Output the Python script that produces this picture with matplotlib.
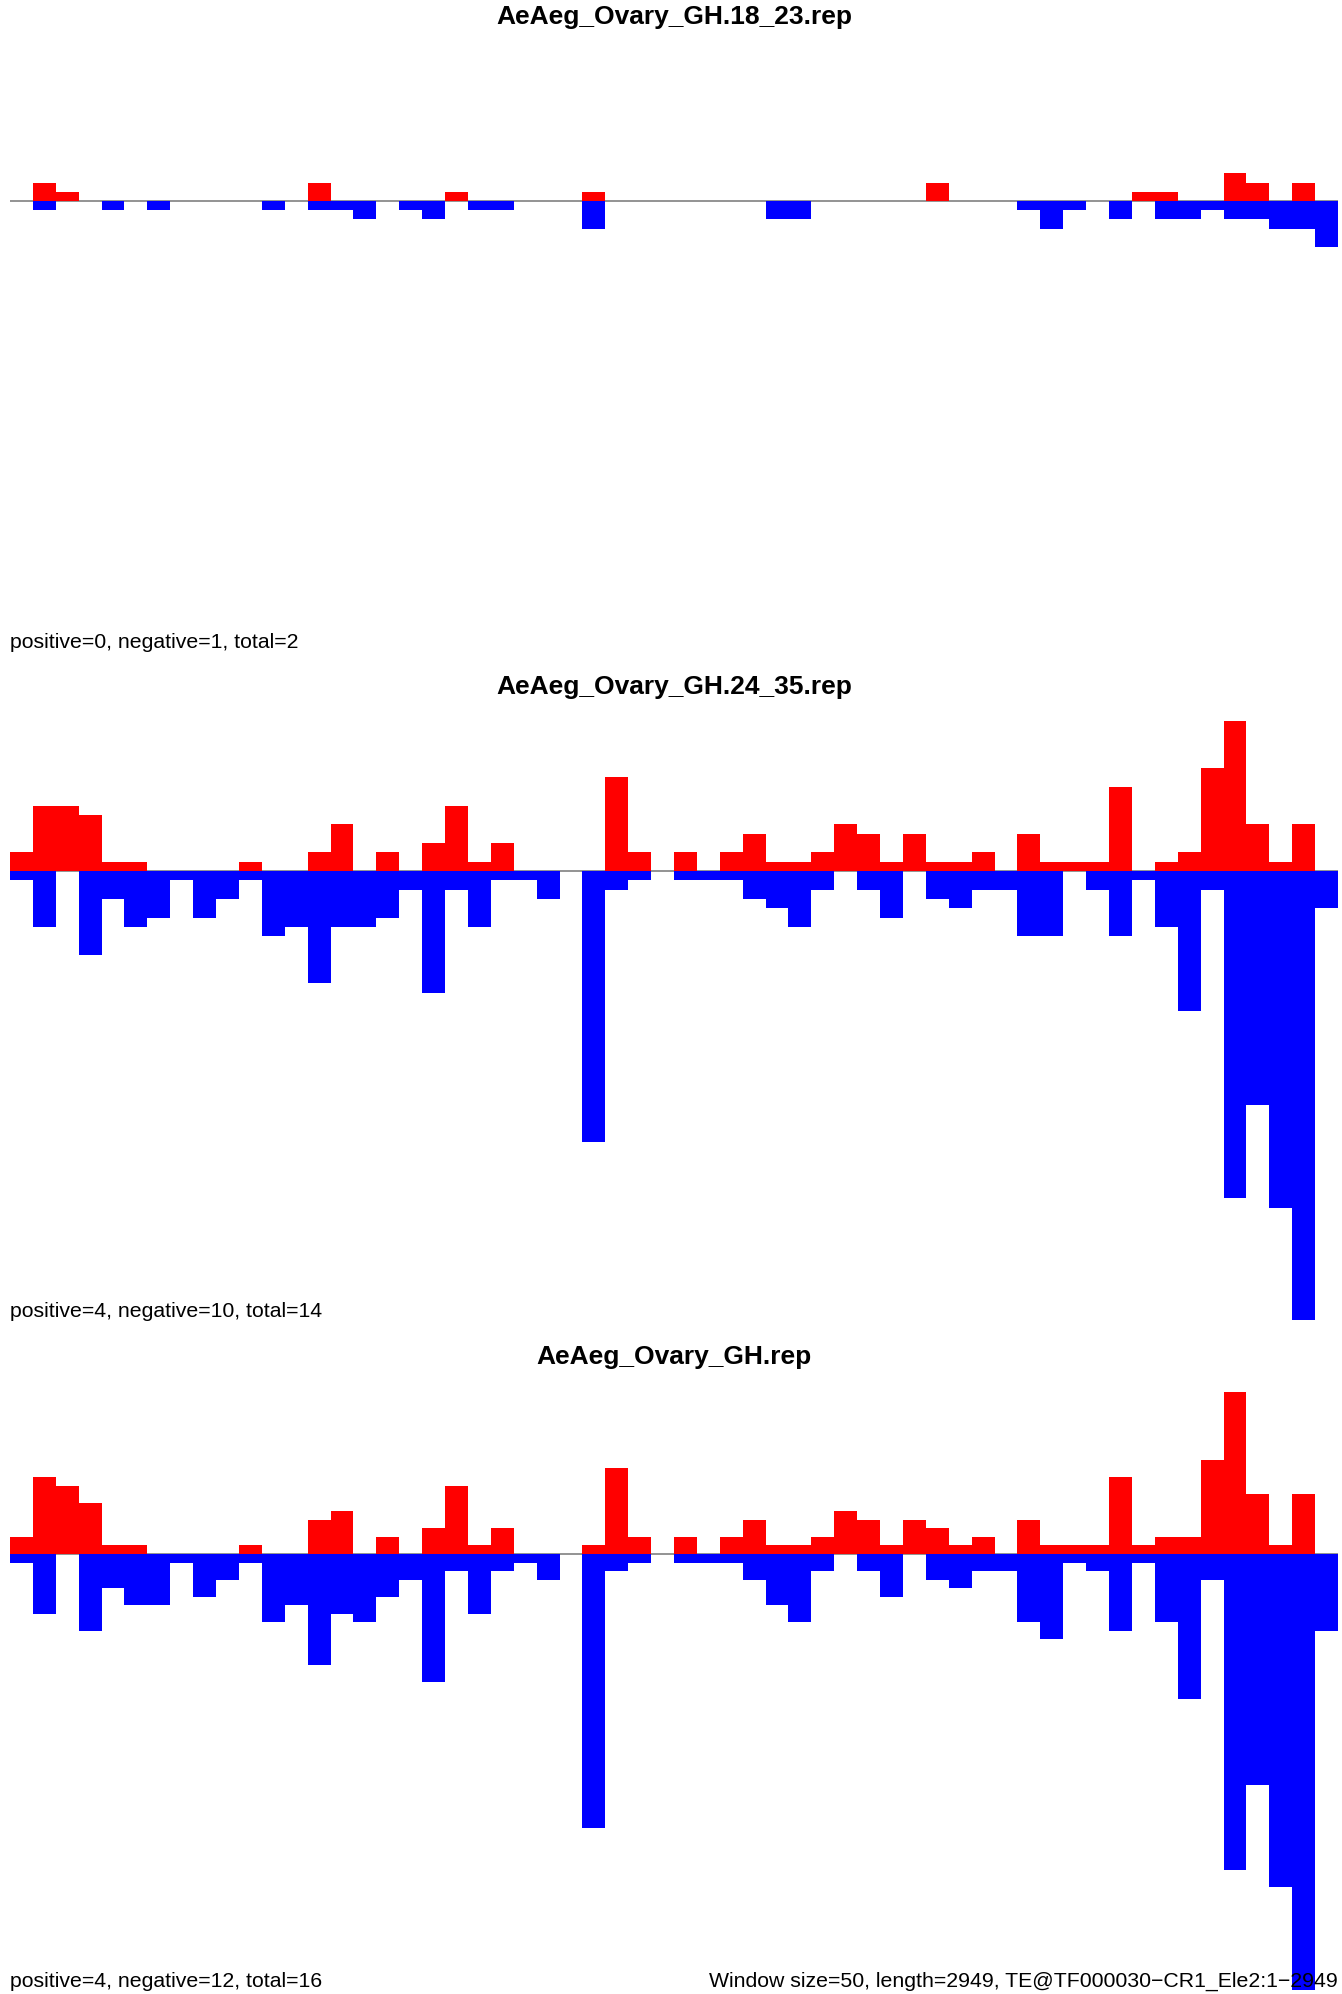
import matplotlib
matplotlib.use("Agg")
import matplotlib.pyplot as plt
import numpy as np

plt.rcParams['font.family'] = ['Liberation Sans', 'DejaVu Sans']

# ---------------- data ----------------
n_windows = 58
windows = np.arange(n_windows)

titles = ["AeAeg_Ovary_GH.18_23.rep",
          "AeAeg_Ovary_GH.24_35.rep",
          "AeAeg_Ovary_GH.rep"]
stats = ["positive=0, negative=1, total=2",
         "positive=4, negative=10, total=14",
         "positive=4, negative=12, total=16"]
footer = "Window size=50, length=2949, TE@TF000030\u2212CR1_Ele2:1\u22122949"

sense_18_23 = [0, 2, 1, 0, 0, 0, 0, 0, 0, 0,
               0, 0, 0, 2, 0, 0, 0, 0, 0, 1,
               0, 0, 0, 0, 0, 1, 0, 0, 0, 0,
               0, 0, 0, 0, 0, 0, 0, 0, 0, 0,
               2, 0, 0, 0, 0, 0, 0, 0, 0, 1,
               1, 0, 0, 3, 2, 0, 2, 0]
antisense_18_23 = [0, 1, 0, 0, 1, 0, 1, 0, 0, 0,
                   0, 1, 0, 1, 1, 2, 0, 1, 2, 0,
                   1, 1, 0, 0, 0, 3, 0, 0, 0, 0,
                   0, 0, 0, 2, 2, 0, 0, 0, 0, 0,
                   0, 0, 0, 0, 1, 3, 1, 0, 2, 0,
                   2, 2, 1, 2, 2, 3, 3, 5]

sense_24_35 = [2, 7, 7, 6, 1, 1, 0, 0, 0, 0,
               1, 0, 0, 2, 5, 0, 2, 0, 3, 7,
               1, 3, 0, 0, 0, 0, 10, 2, 0, 2,
               0, 2, 4, 1, 1, 2, 5, 4, 1, 4,
               1, 1, 2, 0, 4, 1, 1, 1, 9, 0,
               1, 2, 11, 16, 5, 1, 5, 0]
antisense_24_35 = [1, 6, 0, 9, 3, 6, 5, 1, 5, 3,
                   1, 7, 6, 12, 6, 6, 5, 2, 13, 2,
                   6, 1, 1, 3, 0, 29, 2, 1, 0, 1,
                   1, 1, 3, 4, 6, 2, 0, 2, 5, 0,
                   3, 4, 2, 2, 7, 7, 0, 2, 7, 1,
                   6, 15, 2, 35, 25, 36, 48, 4]

sense_all = [2, 9, 8, 6, 1, 1, 0, 0, 0, 0,
             1, 0, 0, 4, 5, 0, 2, 0, 3, 8,
             1, 3, 0, 0, 0, 1, 10, 2, 0, 2,
             0, 2, 4, 1, 1, 2, 5, 4, 1, 4,
             3, 1, 2, 0, 4, 1, 1, 1, 9, 1,
             2, 2, 11, 19, 7, 1, 7, 0]
antisense_all = [1, 7, 0, 9, 4, 6, 6, 1, 5, 3,
                 1, 8, 6, 13, 7, 8, 5, 3, 15, 2,
                 7, 2, 1, 3, 0, 32, 2, 1, 0, 1,
                 1, 1, 3, 6, 8, 2, 0, 2, 5, 0,
                 3, 4, 2, 2, 8, 10, 1, 2, 9, 1,
                 8, 17, 3, 37, 27, 39, 51, 9]

sense = [sense_18_23, sense_24_35, sense_all]
antisense = [antisense_18_23, antisense_24_35, antisense_all]

# ---------------- layout (pixels) ----------------
W, H = 1342, 1994
fig = plt.figure(figsize=(W / 100, H / 100), dpi=100)

x_left, x_right = 10, 1338
baselines = [201, 871, 1554]
units = [9.2, 9.35, 8.55]
boxes = [(40, 640), (710, 1310), (1380, 1980)]
title_y = [16.5, 687, 1357]
stats_y = [642, 1311, 1981]

for k in range(3):
    top, bot = boxes[k]
    ax = fig.add_axes([x_left / W, 1 - bot / H, (x_right - x_left) / W, (bot - top) / H])
    b, u = baselines[k], units[k]
    ax.set_xlim(0, n_windows)
    ax.set_ylim(-(bot - b) / u, (b - top) / u)
    ax.axis('off')
    ax.axhline(0, color='#808080', lw=1.2, zorder=1)
    ax.bar(windows, sense[k], width=1.0, align='edge', color='#FF0000',
           linewidth=0, clip_on=False, zorder=2)
    ax.bar(windows, -np.asarray(antisense[k]), width=1.0, align='edge',
           color='#0000FF', linewidth=0, clip_on=False, zorder=2)
    fig.text(674 / W, 1 - title_y[k] / H, titles[k], ha='center', va='center',
             fontsize=19, fontweight='bold')
    fig.text(10 / W, 1 - stats_y[k] / H, stats[k], ha='left', va='center',
             fontsize=15.3)

fig.text(1338 / W, 1 - 1981 / H, footer, ha='right', va='center', fontsize=15.3)

fig.savefig("out.png", dpi=100, facecolor='white')
